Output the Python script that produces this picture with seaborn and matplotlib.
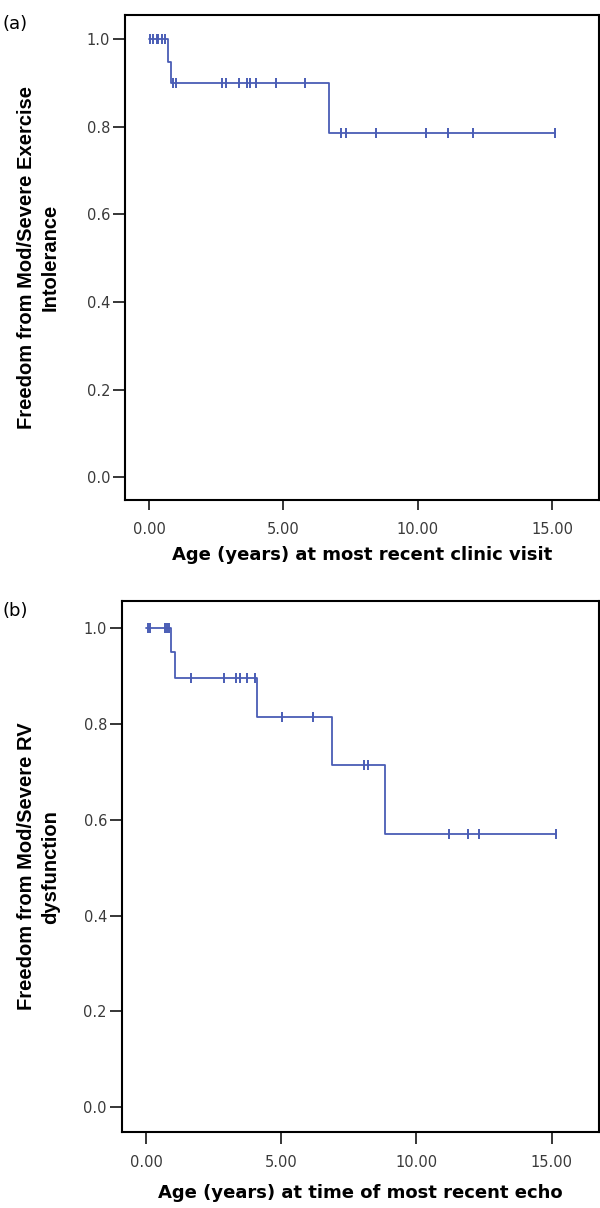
import numpy as np
import pandas as pd
import matplotlib
matplotlib.use("Agg")
import matplotlib.pyplot as plt
import seaborn as sns

# (a) freedom from mod/severe exercise intolerance - KM step points
a_step_t = [0.0, 0.71, 0.81, 6.68, 15.10]
a_step_s = [1.0, 0.948, 0.901, 0.787, 0.787]
# censored observations (ages)
a_cens_t = [0.03, 0.14, 0.29, 0.33, 0.47, 0.59, 0.87, 1.00, 2.71, 2.87, 3.33,
            3.64, 3.76, 3.98, 4.73, 5.82, 7.16, 7.33, 8.46, 10.31, 11.14,
            12.05, 15.10]

# (b) freedom from mod/severe RV dysfunction
b_step_t = [0.0, 0.91, 1.07, 4.11, 6.86, 8.85, 15.15]
b_step_s = [1.0, 0.949, 0.895, 0.814, 0.713, 0.570, 0.570]
b_cens_t = [0.08, 0.15, 0.70, 0.76, 0.85, 1.66, 2.88, 3.32, 3.47, 3.72, 4.02,
            5.04, 6.17, 8.06, 8.20, 11.19, 11.89, 12.32, 15.15]

x_ticks = [0, 5, 10, 15]
x_ticklabels = ["0.00", "5.00", "10.00", "15.00"]
y_ticks = [0.0, 0.2, 0.4, 0.6, 0.8, 1.0]

blue = "#4a5db5"

sns.set_style("ticks")
plt.rcParams["font.family"] = ["DejaVu Sans"]

fig = plt.figure(figsize=(6, 12.08), dpi=100)
ax_a = fig.add_axes([0.2083, 0.5861, 0.79, 0.4017])
ax_b = fig.add_axes([0.2028, 0.0627, 0.7955, 0.4398])


def km_panel(ax, step_t, step_s, cens_t, xlabel, ylabel, ylab_x, xtick_len, xpad):
    curve = pd.DataFrame({"age": step_t, "surv": step_s})
    sns.lineplot(data=curve, x="age", y="surv", ax=ax, drawstyle="steps-post",
                 color=blue, linewidth=1.3, estimator=None)
    # censor ticks sit on the curve
    idx = np.searchsorted(step_t, cens_t, side="right") - 1
    marks = pd.DataFrame({"age": cens_t, "surv": np.array(step_s)[idx]})
    sns.scatterplot(data=marks, x="age", y="surv", ax=ax, marker="|", s=60,
                    color=blue, linewidth=1.4, zorder=3)

    ax.set_xlim(-0.9, 16.75)
    ax.set_ylim(-0.052, 1.056)
    ax.set_xticks(x_ticks)
    ax.set_xticklabels(x_ticklabels)
    ax.set_yticks(y_ticks)
    ax.set_yticklabels([f"{v:.1f}" for v in y_ticks])
    ax.tick_params(axis="y", length=8.6, width=1.1, pad=2, labelsize=10.5,
                   labelcolor="#3a3a3a", color="black")
    ax.tick_params(axis="x", length=xtick_len, width=1.1, pad=8, labelsize=10.5,
                   labelcolor="#3a3a3a", color="black")
    for sp in ax.spines.values():
        sp.set_visible(True)
        sp.set_color("black")
        sp.set_linewidth(1.5)
    ax.set_xlabel(xlabel, fontsize=13, fontweight="bold", labelpad=xpad,
                  color="black")
    ax.set_ylabel(ylabel, fontsize=14.5, fontweight="bold", color="black",
                  family=["Liberation Sans", "DejaVu Sans"], linespacing=1.35)
    ax.yaxis.set_label_coords(ylab_x, 0.5)
    ax.grid(False)


km_panel(ax_a, a_step_t, a_step_s, a_cens_t,
         "Age (years) at most recent clinic visit",
         "Freedom from Mod/Severe Exercise\nIntolerance", -0.137, 7.5, 7)
km_panel(ax_b, b_step_t, b_step_s, b_cens_t,
         "Age (years) at time of most recent echo",
         "Freedom from Mod/Severe RV\ndysfunction", -0.129, 8.6, 10)

fig.text(0.005, 0.9875, "(a)", fontsize=13, va="top", ha="left", color="black")
fig.text(0.005, 0.5017, "(b)", fontsize=13, va="top", ha="left", color="black")

fig.savefig("out.png", dpi=100, facecolor="white")
